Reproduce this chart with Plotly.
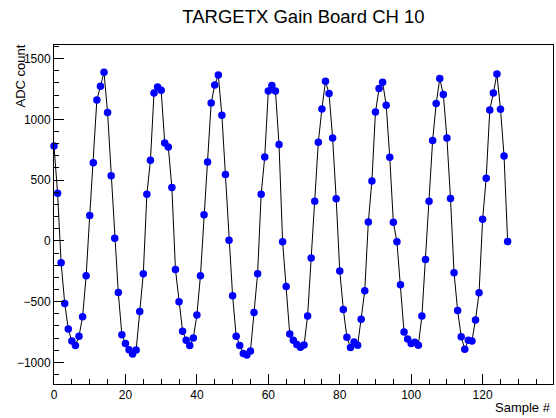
import plotly.graph_objects as go

sample = list(range(128))
adc = [781, 392, -181, -515, -726, -825, -861, -784, -625, -288,
       209, 642, 1160, 1272, 1387, 1056, 535, 22, -425, -773,
       -844, -896, -932, -899, -581, -271, 384, 664, 1217, 1267,
       1239, 806, 773, 439, -235, -501, -743, -817, -861, -800,
       -611, -288, 214, 650, 1135, 1283, 1365, 1034, 546, 6,
       -452, -784, -861, -926, -940, -907, -589, -271, 384, 691,
       1234, 1278, 1234, 794, -8, -376, -767, -817, -853, -875,
       -858, -618, -140, 326, 812, 1086, 1313, 1212, 847, 347,
       -248, -564, -794, -878, -832, -860, -646, -411, 155, 493,
       1061, 1253, 1305, 1116, 688, 154, -8, -362, -751, -807,
       -844, -835, -860, -619, -153, 326, 826, 1130, 1336, 1204,
       847, 349, -263, -573, -789, -891, -817, -825, -652, -428,
       178, 516, 1077, 1217, 1373, 1083, 699, -5]

title_text = "TARGETX Gain Board CH 10"
x_title = "Sample #"
y_title = "ADC count"

FONT = "Liberation Sans, Arial, Helvetica, sans-serif"

fig = go.Figure()
fig.add_trace(go.Scatter(
    x=sample, y=adc, mode="lines+markers",
    line=dict(color="black", width=1),
    marker=dict(color="#0000ff", size=7.5, line=dict(width=0)),
    cliponaxis=False,
    showlegend=False,
))

fig.update_layout(
    width=556, height=418,
    margin=dict(l=54, r=3, t=45, b=34),
    paper_bgcolor="white", plot_bgcolor="white",
    font=dict(family=FONT, size=12, color="black"),
    title=dict(text=title_text, x=0.5, xref="paper", xanchor="center",
               y=1 - 17 / 418, yref="container", yanchor="middle",
               font=dict(family=FONT, size=18.5, color="black")),
    xaxis=dict(range=[0, 139.7], showgrid=False, zeroline=False,
               showline=True, linecolor="black", linewidth=1, mirror=True,
               ticks="inside", ticklen=10, tickcolor="black", tickwidth=1,
               tick0=0, dtick=20,
               minor=dict(ticks="inside", ticklen=5, dtick=5, tickcolor="black", showgrid=False),
               tickfont=dict(size=12)),
    yaxis=dict(range=[-1178, 1612], showgrid=False, zeroline=False,
               showline=True, linecolor="black", linewidth=1, mirror=True,
               ticks="inside", ticklen=10, tickcolor="black", tickwidth=1,
               tick0=0, dtick=500, tickformat="d",
               minor=dict(ticks="inside", ticklen=5, dtick=100, tickcolor="black", showgrid=False),
               tickfont=dict(size=12)),
    annotations=[
        dict(text=x_title, xref="paper", yref="paper", x=1, y=-23 / 339,
             xanchor="right", yanchor="middle", showarrow=False,
             font=dict(family=FONT, size=13, color="black")),
        dict(text=y_title, xref="paper", yref="paper", x=-34 / 499, y=1.006,
             xanchor="center", yanchor="top", textangle=-90, showarrow=False,
             font=dict(family=FONT, size=13, color="black")),
    ],
)

fig.write_html("out.html")
